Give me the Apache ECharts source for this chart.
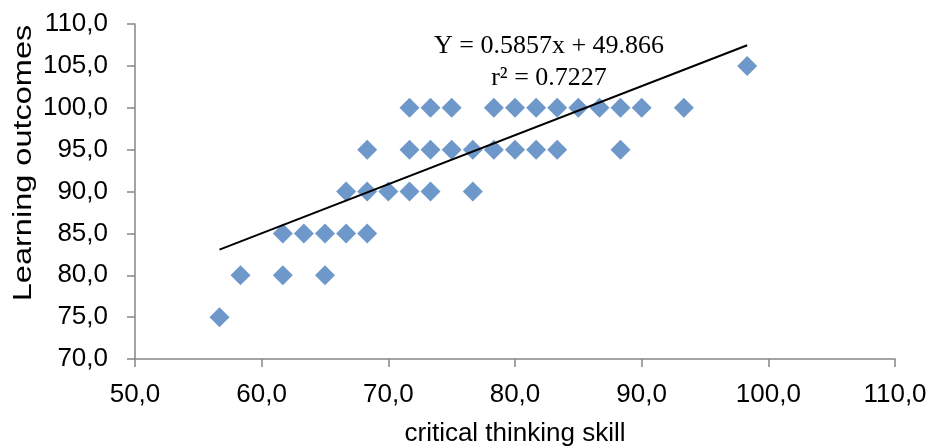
<!DOCTYPE html>
<html>
<head>
<meta charset="utf-8">
<script src="https://cdn.jsdelivr.net/npm/echarts@6/dist/echarts.min.js"></script>
<style>
  html, body { margin: 0; padding: 0; background: #fff; }
  #chart { width: 930px; height: 448px; }
</style>
</head>
<body>
<div id="chart"></div>
<script>
// Critical thinking skill (x) vs learning outcomes (y), one entry per student
const skillScores = [
  98.33,
  71.67, 73.33, 75, 78.33, 80, 81.67, 83.33, 85, 86.67, 88.33, 90, 93.33,
  68.33, 71.67, 73.33, 75, 76.67, 78.33, 80, 81.67, 83.33, 88.33,
  66.67, 68.33, 70, 71.67, 73.33, 76.67,
  61.67, 63.33, 65, 66.67, 68.33,
  58.33, 61.67, 65,
  56.67
];
const outcomeScores = [
  105,
  100, 100, 100, 100, 100, 100, 100, 100, 100, 100, 100, 100,
  95, 95, 95, 95, 95, 95, 95, 95, 95, 95,
  90, 90, 90, 90, 90, 90,
  85, 85, 85, 85, 85,
  80, 80, 80,
  75
];

// Linear regression reported for the data
const slope = 0.5857;
const intercept = 49.866;
const rSquared = 0.7227;

const xTicks = { min: 50, max: 110, step: 10 };
const yTicks = { min: 70, max: 110, step: 5 };

const points = skillScores.map((x, i) => [x, outcomeScores[i]]);
const xLo = Math.min(...skillScores);
const xHi = Math.max(...skillScores);
const trend = [[xLo, slope * xLo + intercept], [xHi, slope * xHi + intercept]];

const fmt = v => v.toFixed(1).replace('.', ',');
const axisGray = '#868686';
const sans = 'Liberation Sans';

const chart = echarts.init(document.getElementById('chart'));
chart.setOption({
  animation: false,
  grid: { left: 135, right: 35, top: 24, bottom: 89, outerBoundsMode: 'none' },
  xAxis: {
    type: 'value',
    min: xTicks.min, max: xTicks.max, interval: xTicks.step,
    name: 'critical thinking skill',
    nameLocation: 'middle',
    nameGap: 62,
    nameTextStyle: { fontFamily: sans, fontSize: 26, color: '#000' },
    axisLine: { show: true, lineStyle: { color: axisGray, width: 1.5 } },
    axisTick: { show: true, length: 8, lineStyle: { color: axisGray, width: 1.5 } },
    axisLabel: { formatter: fmt, fontFamily: sans, fontSize: 26, color: '#000', margin: 23 },
    splitLine: { show: false }
  },
  yAxis: {
    type: 'value',
    min: yTicks.min, max: yTicks.max, interval: yTicks.step,
    axisLine: { show: true, lineStyle: { color: axisGray, width: 1.5 } },
    axisTick: { show: true, length: 8, lineStyle: { color: axisGray, width: 1.5 } },
    axisLabel: { formatter: fmt, fontFamily: sans, fontSize: 26, color: '#000', margin: 27 },
    splitLine: { show: false }
  },
  graphic: [
    {
      type: 'text',
      x: 24, y: 163,
      rotation: Math.PI / 2,
      scaleX: 1.3,
      style: {
        text: 'Learning outcomes',
        fontFamily: sans, fontSize: 25, fill: '#000',
        align: 'center', verticalAlign: 'middle'
      }
    },
    {
      type: 'text',
      x: 549, y: 46,
      style: {
        text: 'Y = ' + slope + 'x + ' + intercept,
        fontFamily: 'Liberation Serif', fontSize: 26, fill: '#000',
        align: 'center', verticalAlign: 'middle'
      }
    },
    {
      type: 'text',
      x: 549, y: 78,
      style: {
        text: 'r\u00b2 = ' + rSquared,
        fontFamily: 'Liberation Serif', fontSize: 26, fill: '#000',
        align: 'center', verticalAlign: 'middle'
      }
    }
  ],
  series: [
    {
      type: 'scatter',
      data: points,
      symbol: 'diamond',
      symbolSize: [20, 20],
      itemStyle: { color: '#4a7ebb' },
      z: 2
    },
    {
      type: 'line',
      data: trend,
      symbol: 'none',
      lineStyle: { color: '#000', width: 2 },
      z: 3
    }
  ]
});
</script>
</body>
</html>
